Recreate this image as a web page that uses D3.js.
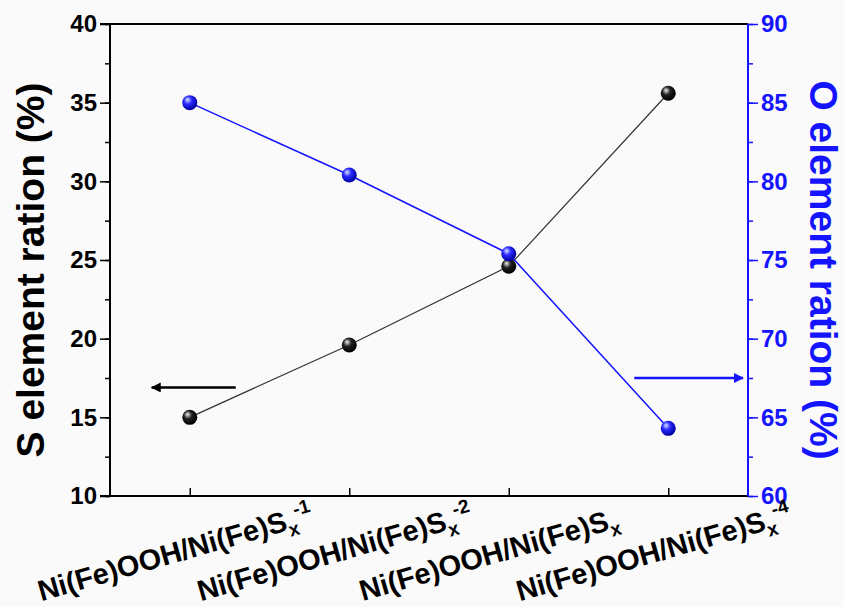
<!DOCTYPE html>
<html>
<head>
<meta charset="utf-8">
<script src="https://cdn.jsdelivr.net/npm/d3@7"></script>
<style>
  html, body { margin: 0; padding: 0; background: #fafafa; }
  svg { display: block; font-family: "Liberation Sans", Arial, sans-serif; font-weight: bold; }
</style>
</head>
<body>
<svg id="chart" width="844" height="607"></svg>
<script>
// ---- data ----
const categories = ["s1", "s2", "s3", "s4"];
const labelMain = ["Ni(Fe)OOH/Ni(Fe)S", "Ni(Fe)OOH/Ni(Fe)S", "Ni(Fe)OOH/Ni(Fe)S", "Ni(Fe)OOH/Ni(Fe)S"];
const labelSub = ["x", "x", "x", "x"];
const labelSup = ["-1", "-2", "", "-4"];
const sValues = [15.0, 19.6, 24.6, 35.6];
const oValues = [85.0, 80.4, 75.4, 64.3];
const leftTicks = [10, 15, 20, 25, 30, 35, 40];
const rightTicks = [60, 65, 70, 75, 80, 85, 90];
const leftTitle = "S element ration (%)";
const rightTitle = "O element ration (%)";
const arrowS = 16.9;   // left-pointing arrow level (S axis)
const arrowO = 67.5;   // right-pointing arrow level (O axis)

// ---- layout ----
const X0 = 110, X1 = 748, Y0 = 24, Y1 = 496;
const BLUE = "#1414ff";

const svg = d3.select("#chart");
const x = d3.scalePoint().domain(categories).range([X0, X1]).padding(0.5);
const yL = d3.scaleLinear().domain([10, 40]).range([Y1, Y0]);
const yR = d3.scaleLinear().domain([60, 90]).range([Y1, Y0]);

// gradients for sphere markers
const defs = svg.append("defs");
function sphere(id, c0, c1, c2) {
  const g = defs.append("radialGradient").attr("id", id)
    .attr("cx", "40%").attr("cy", "38%").attr("r", "60%").attr("fx", "35%").attr("fy", "30%");
  g.append("stop").attr("offset", "0%").attr("stop-color", c0);
  g.append("stop").attr("offset", "45%").attr("stop-color", c1);
  g.append("stop").attr("offset", "100%").attr("stop-color", c2);
}
sphere("gBlack", "#f0f0f0", "#222", "#000");
sphere("gBlue", "#d8e4ff", "#2a2aff", "#0000a0");

defs.append("marker").attr("id", "ahBlack").attr("viewBox", "0 0 10 10")
  .attr("refX", 9).attr("refY", 5).attr("markerWidth", 5).attr("markerHeight", 4)
  .attr("orient", "auto").attr("markerUnits", "strokeWidth")
  .append("path").attr("d", "M0,0 L10,5 L0,10 z").attr("fill", "#000");
defs.append("marker").attr("id", "ahBlue").attr("viewBox", "0 0 10 10")
  .attr("refX", 9).attr("refY", 5).attr("markerWidth", 5).attr("markerHeight", 4)
  .attr("orient", "auto").attr("markerUnits", "strokeWidth")
  .append("path").attr("d", "M0,0 L10,5 L0,10 z").attr("fill", BLUE);

// ---- axes ----
const leftMinor = d3.range(10, 40.01, 2.5);
const rightMinor = d3.range(60, 90.01, 2.5);

const gL = svg.append("g").attr("transform", `translate(${X0},0)`)
  .call(d3.axisLeft(yL).tickValues(leftMinor).tickSize(5).tickFormat(""));
gL.call(g => g.select(".domain").remove());
gL.selectAll("line").attr("stroke", "#000").attr("stroke-width", 1.5);
const gL2 = svg.append("g").attr("transform", `translate(${X0},0)`)
  .call(d3.axisLeft(yL).tickValues(leftTicks).tickSize(10).tickPadding(3).tickFormat(d3.format("d")));
gL2.select(".domain").remove();
gL2.selectAll("line").attr("stroke", "#000").attr("stroke-width", 1.5);
gL2.selectAll("text").attr("font-size", 24).attr("font-weight", "bold")
  .attr("font-family", "Liberation Sans, Arial, sans-serif").attr("fill", "#000");

const gR = svg.append("g").attr("transform", `translate(${X1},0)`)
  .call(d3.axisRight(yR).tickValues(rightMinor).tickSize(5).tickFormat(""));
gR.select(".domain").remove();
gR.selectAll("line").attr("stroke", BLUE).attr("stroke-width", 1.5);
const gR2 = svg.append("g").attr("transform", `translate(${X1},0)`)
  .call(d3.axisRight(yR).tickValues(rightTicks).tickSize(10).tickPadding(3).tickFormat(d3.format("d")));
gR2.select(".domain").remove();
gR2.selectAll("line").attr("stroke", BLUE).attr("stroke-width", 1.5);
gR2.selectAll("text").attr("font-size", 24).attr("font-weight", "bold")
  .attr("font-family", "Liberation Sans, Arial, sans-serif").attr("fill", BLUE);

const gB = svg.append("g").attr("transform", `translate(0,${Y1})`)
  .call(d3.axisBottom(x).tickSize(-8).tickFormat(""));
gB.select(".domain").remove();
gB.selectAll("line").attr("stroke", "#000").attr("stroke-width", 1.5);

// frame
svg.append("line").attr("x1", X0).attr("x2", X0).attr("y1", Y0).attr("y2", Y1).attr("stroke", "#000").attr("stroke-width", 2);
svg.append("line").attr("x1", X0 - 10).attr("x2", X1).attr("y1", Y0).attr("y2", Y0).attr("stroke", "#000").attr("stroke-width", 2);
svg.append("line").attr("x1", X0 - 10).attr("x2", X1).attr("y1", Y1).attr("y2", Y1).attr("stroke", "#000").attr("stroke-width", 2);
svg.append("line").attr("x1", X1).attr("x2", X1).attr("y1", Y0).attr("y2", Y1).attr("stroke", BLUE).attr("stroke-width", 2);

// x labels
categories.forEach((c, i) => {
  const cx = x(c) + (labelSup[i] ? -12 : -17);
  const cy = labelSup[i] ? 562 : 564;
  const t = svg.append("text")
    .attr("transform", `translate(${cx},${cy}) rotate(-16)`)
    .attr("text-anchor", "middle")
    .attr("font-size", 29).attr("fill", "#000");
  t.append("tspan").text(labelMain[i]);
  t.append("tspan").attr("font-size", 19).attr("dy", 7).text(labelSub[i]);
  if (labelSup[i]) t.append("tspan").attr("font-size", 19).attr("dy", -19).attr("dx", -1).text(labelSup[i]);
});

// axis titles
svg.append("text").attr("transform", `translate(44,${(Y0 + Y1) / 2 + 10}) rotate(-90)`)
  .attr("text-anchor", "middle").attr("font-size", 39).attr("fill", "#000").text(leftTitle);
svg.append("text").attr("transform", `translate(810,${(Y0 + Y1) / 2 + 10}) rotate(90)`)
  .attr("text-anchor", "middle").attr("font-size", 39).attr("fill", BLUE).text(rightTitle);

// lines
const lineS = d3.line().x((d, i) => x(categories[i])).y(d => yL(d));
const lineO = d3.line().x((d, i) => x(categories[i])).y(d => yR(d));
svg.append("path").attr("d", lineS(sValues)).attr("fill", "none").attr("stroke", "#333").attr("stroke-width", 1.2);
svg.append("path").attr("d", lineO(oValues)).attr("fill", "none").attr("stroke", BLUE).attr("stroke-width", 1.5);

// markers
svg.append("g").selectAll("circle").data(sValues).join("circle")
  .attr("cx", (d, i) => x(categories[i])).attr("cy", d => yL(d)).attr("r", 7.5)
  .attr("fill", "url(#gBlack)");
svg.append("g").selectAll("circle").data(oValues).join("circle")
  .attr("cx", (d, i) => x(categories[i])).attr("cy", d => yR(d)).attr("r", 7.5)
  .attr("fill", "url(#gBlue)");

// arrows
svg.append("line").attr("x1", x(categories[0]) + 46).attr("x2", x(categories[0]) - 38)
  .attr("y1", yL(arrowS)).attr("y2", yL(arrowS))
  .attr("stroke", "#000").attr("stroke-width", 2.5).attr("marker-end", "url(#ahBlack)");
svg.append("line").attr("x1", x(categories[3]) - 34).attr("x2", X1 - 5)
  .attr("y1", yR(arrowO)).attr("y2", yR(arrowO))
  .attr("stroke", BLUE).attr("stroke-width", 2.5).attr("marker-end", "url(#ahBlue)");
</script>
</body>
</html>
